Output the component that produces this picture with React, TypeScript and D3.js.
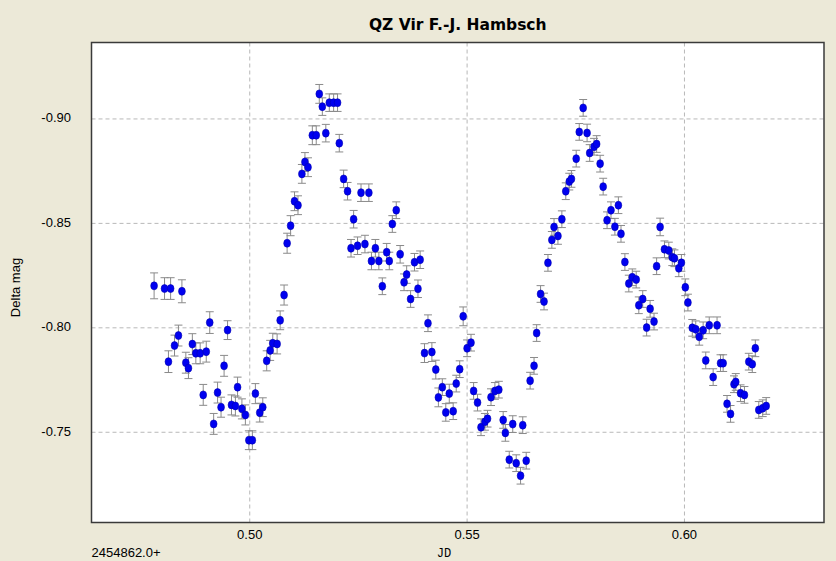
import React from "react";
import * as d3 from "d3";

// ---- data ----
const jd: number[] = [
  0.4780, 0.4804, 0.4813, 0.4818, 0.4827, 0.4836, 0.4844, 0.4853, 0.4859, 0.4868,
  0.4876, 0.4886, 0.4893, 0.4900, 0.4908, 0.4917, 0.4926, 0.4934, 0.4941, 0.4949,
  0.4958, 0.4967, 0.4972, 0.4982, 0.4990, 0.4998, 0.5006, 0.5013, 0.5023, 0.5030,
  0.5039, 0.5047, 0.5053, 0.5063, 0.5070, 0.5079, 0.5086, 0.5094, 0.5103, 0.5111,
  0.5120, 0.5127, 0.5134, 0.5144, 0.5153, 0.5160, 0.5167, 0.5175, 0.5183, 0.5193,
  0.5202, 0.5206, 0.5216, 0.5225, 0.5233, 0.5239, 0.5248, 0.5256, 0.5265, 0.5274,
  0.5280, 0.5289, 0.5297, 0.5305, 0.5315, 0.5321, 0.5328, 0.5337, 0.5346, 0.5355,
  0.5361, 0.5370, 0.5379, 0.5387, 0.5392, 0.5402, 0.5410, 0.5419, 0.5428, 0.5434,
  0.5443, 0.5451, 0.5459, 0.5468, 0.5475, 0.5483, 0.5491, 0.5500, 0.5509, 0.5515,
  0.5524, 0.5532, 0.5541, 0.5547, 0.5555, 0.5564, 0.5573, 0.5583, 0.5588, 0.5597,
  0.5605, 0.5613, 0.5623, 0.5628, 0.5636, 0.5645, 0.5654, 0.5660, 0.5669, 0.5677,
  0.5686, 0.5695, 0.5700, 0.5709, 0.5718, 0.5727, 0.5735, 0.5740, 0.5751, 0.5758,
  0.5767, 0.5776, 0.5782, 0.5792, 0.5798, 0.5806, 0.5813, 0.5822, 0.5831, 0.5840,
  0.5848, 0.5854, 0.5863, 0.5872, 0.5880, 0.5889, 0.5895, 0.5904, 0.5913, 0.5921,
  0.5930, 0.5936, 0.5944, 0.5954, 0.5964, 0.5972, 0.5977, 0.5987, 0.5993, 0.6002,
  0.6008, 0.6018, 0.6026, 0.6034, 0.6043, 0.6049, 0.6057, 0.6066, 0.6075, 0.6083,
  0.6089, 0.6098, 0.6106, 0.6114, 0.6118, 0.6129, 0.6138, 0.6148, 0.6156, 0.6163,
  0.6171, 0.6180, 0.6188,
];

const deltaMag: number[] = [
  -0.8201, -0.8188, -0.7838, -0.8188, -0.7915, -0.7963, -0.8175, -0.7833, -0.7807, -0.7922,
  -0.7878, -0.7878, -0.7679, -0.7886, -0.8025, -0.7540, -0.7690, -0.7620, -0.7818, -0.7989,
  -0.7631, -0.7626, -0.7716, -0.7612, -0.7583, -0.7462, -0.7462, -0.7685, -0.7594, -0.7620,
  -0.7842, -0.7892, -0.7926, -0.7923, -0.8036, -0.8157, -0.8405, -0.8489, -0.8606, -0.8587,
  -0.8737, -0.8794, -0.8769, -0.8922, -0.8922, -0.9120, -0.9059, -0.8932, -0.9078, -0.9078,
  -0.9078, -0.8884, -0.8713, -0.8654, -0.8381, -0.8520, -0.8393, -0.8647, -0.8401, -0.8647,
  -0.8320, -0.8381, -0.8320, -0.8199, -0.8362, -0.8320, -0.8497, -0.8563, -0.8352, -0.8218,
  -0.8255, -0.8138, -0.8314, -0.8187, -0.8326, -0.7879, -0.8022, -0.7884, -0.7800, -0.7667,
  -0.7716, -0.7595, -0.7685, -0.7601, -0.7733, -0.7802, -0.8055, -0.7902, -0.7929, -0.7698,
  -0.7642, -0.7524, -0.7550, -0.7565, -0.7668, -0.7698, -0.7704, -0.7559, -0.7497, -0.7369,
  -0.7539, -0.7352, -0.7292, -0.7534, -0.7364, -0.7747, -0.7818, -0.7975, -0.8162, -0.8126,
  -0.8311, -0.8421, -0.8483, -0.8440, -0.8520, -0.8654, -0.8700, -0.8713, -0.8810, -0.8938,
  -0.9053, -0.8933, -0.8837, -0.8867, -0.8880, -0.8786, -0.8676, -0.8515, -0.8563, -0.8484,
  -0.8587, -0.8450, -0.8315, -0.8212, -0.8242, -0.8231, -0.8108, -0.8138, -0.8001, -0.8091,
  -0.8030, -0.8295, -0.8483, -0.8376, -0.8370, -0.8338, -0.8333, -0.8285, -0.8311, -0.8194,
  -0.8121, -0.8000, -0.7993, -0.7957, -0.7988, -0.7844, -0.8012, -0.7764, -0.8012, -0.7831,
  -0.7831, -0.7636, -0.7588, -0.7730, -0.7741, -0.7687, -0.7679, -0.7838, -0.7826, -0.7902,
  -0.7607, -0.7615, -0.7626,
];

const magErr: number[] = [
  0.0062, 0.0052, 0.0052, 0.0052, 0.0050, 0.0050, 0.0055, 0.0050, 0.0050, 0.0050,
  0.0050, 0.0050, 0.0050, 0.0050, 0.0052, 0.0050, 0.0050, 0.0048, 0.0050, 0.0045,
  0.0048, 0.0048, 0.0048, 0.0048, 0.0048, 0.0045, 0.0045, 0.0048, 0.0045, 0.0045,
  0.0048, 0.0048, 0.0048, 0.0048, 0.0045, 0.0048, 0.0048, 0.0048, 0.0045, 0.0045,
  0.0045, 0.0045, 0.0045, 0.0045, 0.0045, 0.0045, 0.0042, 0.0042, 0.0042, 0.0042,
  0.0042, 0.0042, 0.0042, 0.0042, 0.0042, 0.0042, 0.0042, 0.0042, 0.0042, 0.0042,
  0.0042, 0.0042, 0.0042, 0.0040, 0.0042, 0.0042, 0.0040, 0.0040, 0.0042, 0.0040,
  0.0042, 0.0040, 0.0042, 0.0042, 0.0042, 0.0045, 0.0040, 0.0045, 0.0045, 0.0045,
  0.0040, 0.0042, 0.0045, 0.0040, 0.0040, 0.0040, 0.0045, 0.0040, 0.0040, 0.0040,
  0.0040, 0.0040, 0.0040, 0.0040, 0.0040, 0.0040, 0.0040, 0.0040, 0.0040, 0.0040,
  0.0040, 0.0040, 0.0040, 0.0040, 0.0040, 0.0040, 0.0040, 0.0040, 0.0040, 0.0040,
  0.0040, 0.0040, 0.0040, 0.0040, 0.0040, 0.0040, 0.0040, 0.0040, 0.0040, 0.0040,
  0.0040, 0.0042, 0.0040, 0.0040, 0.0040, 0.0040, 0.0040, 0.0040, 0.0040, 0.0040,
  0.0040, 0.0040, 0.0040, 0.0040, 0.0040, 0.0040, 0.0040, 0.0040, 0.0040, 0.0040,
  0.0040, 0.0040, 0.0042, 0.0040, 0.0040, 0.0040, 0.0040, 0.0040, 0.0040, 0.0040,
  0.0040, 0.0040, 0.0040, 0.0040, 0.0040, 0.0040, 0.0040, 0.0040, 0.0040, 0.0040,
  0.0040, 0.0040, 0.0040, 0.0040, 0.0040, 0.0040, 0.0040, 0.0040, 0.0040, 0.0040,
  0.0040, 0.0040, 0.0040,
];

const xTicks: number[] = [0.5, 0.55, 0.6];
const yTicks: number[] = [-0.9, -0.85, -0.8, -0.75];
const xDomain: [number, number] = [0.4636, 0.6321];
const yDomain: [number, number] = [-0.9366, -0.7068];

const title = "QZ Vir F.-J. Hambsch";
const yLabel = "Delta mag";
const xLabel = "JD";
const xOffsetLabel = "2454862.0+";

// ---- layout ----
const W = 836;
const H = 561;
const PL = 91.5;
const PR = 824;
const PT = 42.5;
const PB = 522.5;
const FONT = "'Liberation Sans', Arial, sans-serif";

export default function App() {
  const x = d3.scaleLinear().domain(xDomain).range([PL, PR]);
  const y = d3.scaleLinear().domain(yDomain).range([PT, PB]);
  const fmt = (v: number) => v.toFixed(2);
  const points = jd.map((v, i) => ({ x: v, y: deltaMag[i], e: magErr[i] }));

  return (
    <svg
      width={W}
      height={H}
      style={{ position: "absolute", left: 0, top: 0, display: "block" }}
    >
      <rect x={0} y={0} width={W} height={H} fill="#ECE9D8" />
      <rect x={PL} y={PT} width={PR - PL} height={PB - PT} fill="#ffffff" />

      {/* grid */}
      {xTicks.map((t) => (
        <line
          key={"gx" + t}
          x1={x(t)}
          x2={x(t)}
          y1={PT}
          y2={PB}
          stroke="#b8b8b8"
          strokeWidth={1}
          strokeDasharray="4,3"
        />
      ))}
      {yTicks.map((t) => (
        <line
          key={"gy" + t}
          x1={PL}
          x2={PR}
          y1={y(t)}
          y2={y(t)}
          stroke="#b8b8b8"
          strokeWidth={1}
          strokeDasharray="4,3"
        />
      ))}

      {/* error bars */}
      <g stroke="#8a8a8a" strokeWidth={1}>
        {points.map((p, i) => {
          const cx = x(p.x);
          const y1 = y(p.y - p.e);
          const y2 = y(p.y + p.e);
          return (
            <g key={"e" + i}>
              <line x1={cx} x2={cx} y1={y1} y2={y2} />
              <line x1={cx - 4} x2={cx + 4} y1={y1} y2={y1} />
              <line x1={cx - 4} x2={cx + 4} y1={y2} y2={y2} />
            </g>
          );
        })}
      </g>

      {/* points */}
      <g fill="#0000f0" stroke="#0000b0" strokeWidth={0.6}>
        {points.map((p, i) => (
          <ellipse key={"p" + i} cx={x(p.x)} cy={y(p.y)} rx={3.4} ry={4} />
        ))}
      </g>

      {/* frame */}
      <rect
        x={PL}
        y={PT}
        width={PR - PL}
        height={PB - PT}
        fill="none"
        stroke="#3a3a3a"
        strokeWidth={1.5}
      />

      {/* tick labels */}
      {xTicks.map((t) => (
        <text
          key={"tx" + t}
          x={x(t)}
          y={536}
          textAnchor="middle"
          dominantBaseline="middle"
          fontFamily={FONT}
          fontSize={13}
          fill="#000"
        >
          {fmt(t)}
        </text>
      ))}
      {yTicks.map((t) => (
        <text
          key={"ty" + t}
          x={71}
          y={y(t)}
          textAnchor="end"
          dominantBaseline="middle"
          fontFamily={FONT}
          fontSize={13}
          fill="#000"
        >
          {fmt(t)}
        </text>
      ))}

      {/* titles */}
      <text
        x={(PL + PR) / 2}
        y={25}
        textAnchor="middle"
        dominantBaseline="middle"
        fontFamily="'DejaVu Sans', Verdana, sans-serif"
        fontSize={15.5}
        fontWeight="bold"
        fill="#000"
      >
        {title}
      </text>
      <text
        transform={`translate(17, ${(PT + PB) / 2 + 5}) rotate(-90)`}
        textAnchor="middle"
        dominantBaseline="middle"
        fontFamily={FONT}
        fontSize={13}
        fill="#000"
      >
        {yLabel}
      </text>
      <text
        x={PL}
        y={554}
        dominantBaseline="middle"
        fontFamily={FONT}
        fontSize={13}
        fill="#000"
      >
        {xOffsetLabel}
      </text>
      <text
        x={444}
        y={554}
        textAnchor="middle"
        dominantBaseline="middle"
        fontFamily="'Liberation Mono', monospace"
        fontSize={12}
        fill="#000"
      >
        {xLabel}
      </text>
    </svg>
  );
}
